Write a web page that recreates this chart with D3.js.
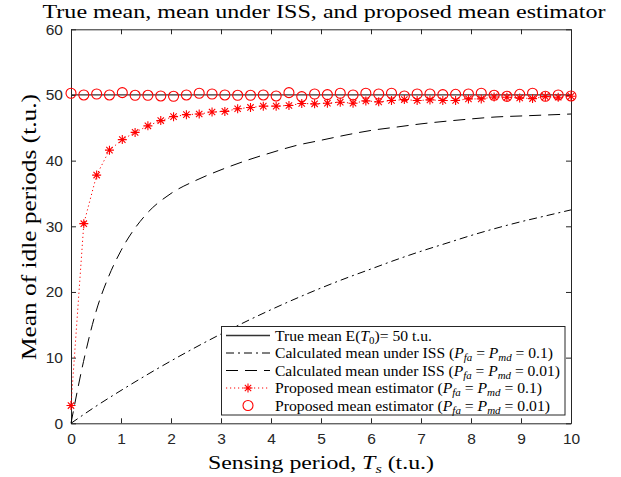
<!DOCTYPE html>
<html><head><meta charset="utf-8">
<script src="https://cdn.jsdelivr.net/npm/d3@7"></script>
<style>
html,body{margin:0;padding:0;background:#fff;}
svg{display:block;}
</style></head>
<body>
<svg id="chart" width="621" height="477"></svg>
<script>
// ---- data ----
const xTicks = [0,1,2,3,4,5,6,7,8,9,10];
const yTicks = [0,10,20,30,40,50,60];
const trueMean = 50;
// sampled sensing periods for the proposed estimator (40 points, 0..10)
const estX = [0,0.256,0.513,0.769,1.026,1.282,1.538,1.795,2.051,2.308,2.564,2.821,3.077,3.333,3.590,3.846,4.103,4.359,4.615,4.872,5.128,5.385,5.641,5.897,6.154,6.410,6.667,6.923,7.179,7.436,7.692,7.949,8.205,8.462,8.718,8.974,9.231,9.487,9.744,10];
const estP01 = [2.7,30.4,37.8,41.6,43.2,44.3,45.3,46.1,46.7,47.0,47.1,47.4,47.5,47.9,48.1,48.3,48.3,48.4,48.7,48.65,48.75,48.9,48.75,49.1,48.95,49.15,49.3,49.15,49.25,49.15,49.15,49.4,49.4,49.7,49.65,49.55,49.45,49.75,49.65,49.8];
const estP001 = [50.26,50.0,50.15,50.0,50.35,49.95,49.95,49.85,49.8,50.0,50.26,50.15,50.0,49.95,49.95,50.0,49.85,50.35,49.75,50.15,50.05,50.26,50.0,50.26,50.15,50.26,49.85,50.15,50.15,50.05,50.1,50.15,50.26,49.95,49.8,50.1,50.26,49.8,50.0,49.85];
// calculated mean under ISS curves
const issX01 = [0,0.5,1,1.5,2,2.5,3,3.5,4,4.5,5,5.5,6,6.5,7,7.5,8,8.5,9,9.5,10];
const issP01 = [0,2.6,5.0,7.3,9.5,11.6,13.6,15.5,17.3,19.0,20.6,22.1,23.5,24.9,26.2,27.4,28.6,29.7,30.7,31.6,32.5];
const issX001 = [0,0.25,0.5,0.75,1,1.5,2,2.5,3,3.5,4,4.5,5,5.5,6,6.5,7,7.5,8,8.5,9,9.5,10];
const issP001 = [0,9.4,17.0,22.3,26.3,31.8,35.0,37.0,38.6,40.0,41.2,42.3,43.1,43.9,44.6,45.1,45.6,46.0,46.35,46.65,46.8,46.95,47.1];

// ---- layout ----
const svg = d3.select("#chart");
const L = 71, R = 571, T = 29.3, B = 423.3;
const x = d3.scaleLinear().domain([0,10]).range([L,R]);
const y = d3.scaleLinear().domain([0,60]).range([B,T]);
const axisCol = "#262626";
const serif = "'Liberation Serif', 'Times New Roman', serif";
const sans = "'Liberation Sans', Arial, sans-serif";

// axes
function styleAxis(g){
  g.selectAll("path.domain").attr("stroke", axisCol).attr("stroke-width",1);
  g.selectAll(".tick line").attr("stroke", axisCol).attr("stroke-width",1);
  g.selectAll(".tick text").attr("fill", "#262626").style("font-family", sans).style("font-size","15.5px");
}
svg.append("g").attr("transform",`translate(0,${B})`)
  .call(d3.axisBottom(x).tickValues(xTicks).tickSize(-5).tickSizeOuter(0).tickPadding(10).tickFormat(d3.format("d")))
  .call(styleAxis);
svg.append("g").attr("transform",`translate(0,${T})`)
  .call(d3.axisTop(x).tickValues(xTicks).tickSize(-5).tickSizeOuter(0).tickFormat(""))
  .call(styleAxis);
svg.append("g").attr("transform",`translate(${L},0)`)
  .call(d3.axisLeft(y).tickValues(yTicks).tickSize(-5).tickSizeOuter(0).tickPadding(8).tickFormat(d3.format("d")))
  .call(styleAxis);
svg.append("g").attr("transform",`translate(${R},0)`)
  .call(d3.axisRight(y).tickValues(yTicks).tickSize(-5).tickSizeOuter(0).tickFormat(""))
  .call(styleAxis);

const plot = svg.append("g");

// true mean line
plot.append("line").attr("x1",x(0)).attr("x2",x(10)).attr("y1",y(trueMean)).attr("y2",y(trueMean))
  .attr("stroke","#333").attr("stroke-width",1.3);

// ISS curves
const line = d3.line().x(d=>x(d[0])).y(d=>y(d[1])).curve(d3.curveMonotoneX);
plot.append("path").datum(issX01.map((v,i)=>[v,issP01[i]])).attr("d",line)
  .attr("fill","none").attr("stroke","#000").attr("stroke-width",1).attr("stroke-dasharray","8,4,2,4");
plot.append("path").datum(issX001.map((v,i)=>[v,issP001[i]])).attr("d",line)
  .attr("fill","none").attr("stroke","#000").attr("stroke-width",1).attr("stroke-dasharray","12,7");

// proposed estimator Pfa=0.1 dotted + asterisks
const lineLin = d3.line().x(d=>x(d[0])).y(d=>y(d[1]));
const starData = estX.map((v,i)=>[v,estP01[i]]);
plot.append("path").datum(starData).attr("d",lineLin)
  .attr("fill","none").attr("stroke","#ff0000").attr("stroke-width",1).attr("stroke-dasharray","1.2,2.8");
function star(g, cx, cy, r){
  const s = r*0.7071;
  g.append("path").attr("d",
    `M${cx-r},${cy}L${cx+r},${cy}M${cx},${cy-r}L${cx},${cy+r}M${cx-s},${cy-s}L${cx+s},${cy+s}M${cx-s},${cy+s}L${cx+s},${cy-s}`)
    .attr("stroke","#ff0000").attr("stroke-width",1.1).attr("fill","none");
}
const starG = plot.append("g");
starData.forEach(d=>star(starG, x(d[0]), y(d[1]), 4.5));

// proposed estimator Pfa=0.01 circles
plot.append("g").selectAll("circle").data(estX.map((v,i)=>[v,estP001[i]])).join("circle")
  .attr("cx",d=>x(d[0])).attr("cy",d=>y(d[1])).attr("r",5)
  .attr("fill","none").attr("stroke","#ff0000").attr("stroke-width",1.1);

// ---- texts ----
svg.append("text").attr("x",324).attr("y",17.5).attr("text-anchor","middle")
  .attr("textLength",563).attr("lengthAdjust","spacingAndGlyphs")
  .style("font-family",serif).style("font-size","19.5px").attr("fill","#000")
  .text("True mean, mean under ISS, and proposed mean estimator");

const xl = svg.append("text").attr("x",321).attr("y",469).attr("text-anchor","middle")
  .attr("textLength",226).attr("lengthAdjust","spacingAndGlyphs")
  .style("font-family",serif).style("font-size","19px").attr("fill","#000");
xl.append("tspan").text("Sensing period, ");
xl.append("tspan").style("font-style","italic").text("T");
xl.append("tspan").attr("baseline-shift","-4").style("font-size","13px").style("font-style","italic").text("s");
xl.append("tspan").text(" (t.u.)");

svg.append("text").attr("transform","translate(36,227) rotate(-90)").attr("text-anchor","middle")
  .attr("textLength",266).attr("lengthAdjust","spacingAndGlyphs")
  .style("font-family",serif).style("font-size","20px").attr("fill","#000")
  .text("Mean of idle periods (t.u.)");

// ---- legend ----
const lg = svg.append("g");
lg.append("rect").attr("x",221.5).attr("y",326.5).attr("width",343.5).attr("height",88.5)
  .attr("fill","#fff").attr("stroke","#262626").attr("stroke-width",1);
const rows = [
  {y:335.5, end:432, parts:[["True mean E(",""],["T","i"],["0","s"],[")= 50 t.u.",""]]},
  {y:353, end:553, parts:[["Calculated mean under ISS (",""],["P","i"],["fa","si"],[" = ",""],["P","i"],["md","si"],[" = 0.1)",""]]},
  {y:370.5, end:560, parts:[["Calculated mean under ISS (",""],["P","i"],["fa","si"],[" = ",""],["P","i"],["md","si"],[" = 0.01)",""]]},
  {y:388, end:542, parts:[["Proposed mean estimator (",""],["P","i"],["fa","si"],[" = ",""],["P","i"],["md","si"],[" = 0.1)",""]]},
  {y:405.5, end:550, parts:[["Proposed mean estimator (",""],["P","i"],["fa","si"],[" = ",""],["P","i"],["md","si"],[" = 0.01)",""]]}
];
rows.forEach((r,i)=>{
  const t = lg.append("text").attr("x",275).attr("y",r.y+5)
    .attr("textLength",r.end-275).attr("lengthAdjust","spacingAndGlyphs")
    .style("font-family",serif).style("font-size","15px").attr("fill","#000");
  r.parts.forEach(p=>{
    const ts = t.append("tspan").text(p[0]);
    if(p[1].includes("i")) ts.style("font-style","italic");
    if(p[1].includes("s")) ts.attr("baseline-shift","-3").style("font-size","10.5px");
  });
});
// legend samples
lg.append("line").attr("x1",226).attr("x2",270).attr("y1",rows[0].y).attr("y2",rows[0].y).attr("stroke","#333").attr("stroke-width",1.3);
lg.append("line").attr("x1",226).attr("x2",270).attr("y1",rows[1].y).attr("y2",rows[1].y).attr("stroke","#000").attr("stroke-dasharray","8,4,2,4");
lg.append("line").attr("x1",226).attr("x2",270).attr("y1",rows[2].y).attr("y2",rows[2].y).attr("stroke","#000").attr("stroke-dasharray","12,7");
lg.append("line").attr("x1",226).attr("x2",270).attr("y1",rows[3].y).attr("y2",rows[3].y).attr("stroke","#ff0000").attr("stroke-dasharray","1.2,2.8");
star(lg, 248, rows[3].y, 4.5);
lg.append("circle").attr("cx",248).attr("cy",rows[4].y).attr("r",5).attr("fill","none").attr("stroke","#ff0000").attr("stroke-width",1.1);
</script>
</body></html>
